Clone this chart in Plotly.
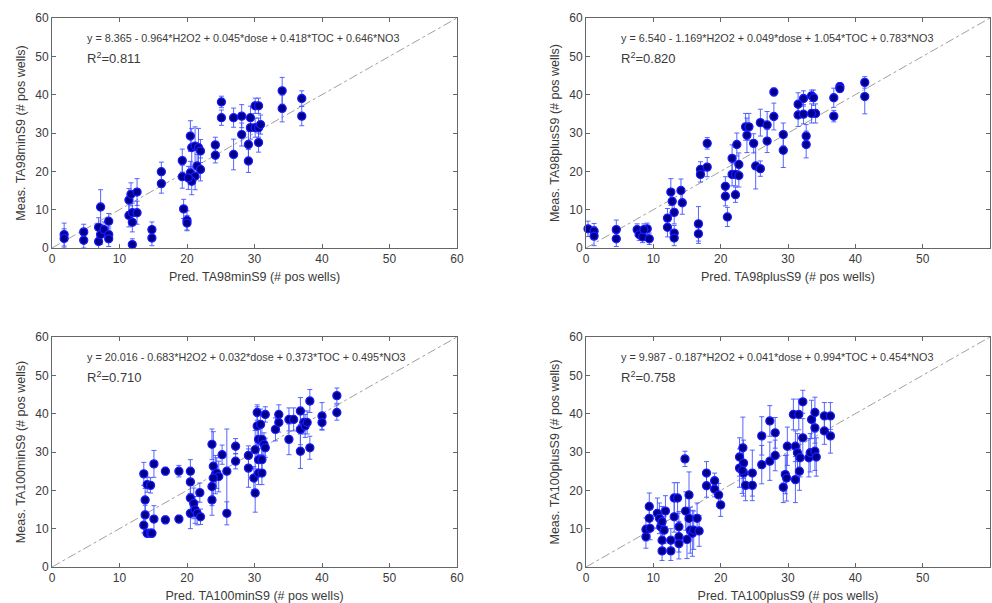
import plotly.graph_objects as go
from plotly.subplots import make_subplots

# ---- Panel 1: TA98minS9 ----
p1_pred = [1.8, 1.8, 4.7, 4.7, 6.9, 6.9, 7.2, 7.2, 7.7, 8.4, 8.4, 8.4,
           11.4, 11.4, 11.7, 11.9, 11.9, 11.9, 12.6, 12.6, 14.8, 14.8,
           16.2, 16.2, 19.3, 19.3, 19.5, 20.0, 20.0, 20.5, 20.5, 20.7, 21.2,
           21.5, 21.7, 22.0, 22.0, 21.2, 20.7, 20.2, 24.2, 24.2, 25.1, 25.1,
           26.9, 26.9, 28.1, 28.1, 29.1, 29.1, 29.4, 29.4, 30.1, 30.1,
           30.6, 30.6, 30.6, 30.9, 34.1, 34.1, 37.0, 37.0]
p1_meas = [3.5, 2.5, 4.2, 2.0, 5.4, 1.7, 10.7, 3.5, 4.8, 3.5, 2.4, 7.0,
           12.5, 8.5, 14.0, 0.9, 9.2, 6.7, 14.6, 9.2, 4.8, 2.6,
           19.9, 16.8, 22.8, 18.6, 10.2, 7.2, 6.5, 29.2, 19.6, 26.2, 26.6,
           21.4, 26.2, 25.3, 20.5, 18.7, 17.4, 18.3, 26.9, 24.2, 38.1, 34.0,
           34.0, 24.4, 34.4, 29.6, 27.0, 22.7, 34.0, 31.4, 37.1, 31.4,
           37.1, 31.4, 27.5, 32.2, 41.0, 36.4, 39.0, 34.4]
p1_err = [3.0, 2.5, 2.0, 2.0, 2.5, 2.0, 4.5, 2.5, 2.0, 2.0, 2.0, 2.0,
          3.0, 3.0, 3.0, 1.5, 2.5, 2.5, 3.5, 3.0, 2.0, 2.0,
          2.5, 2.5, 3.0, 3.0, 2.5, 2.5, 2.0, 4.0, 3.0, 5.0, 5.0,
          3.0, 5.0, 3.0, 3.0, 3.5, 3.5, 3.0, 2.0, 2.0, 1.5, 2.0,
          2.5, 4.0, 3.0, 3.0, 3.5, 3.0, 3.0, 3.0, 2.0, 2.5,
          2.0, 2.5, 2.5, 2.5, 3.5, 3.5, 2.0, 2.5]

# ---- Panel 2: TA98plusS9 ----
p2_pred = [0.3, 1.2, 1.2, 4.5, 4.5, 7.6, 7.9, 8.4, 9.1, 9.4, 8.6,
           12.1, 12.1, 12.6, 12.8, 13.1, 13.1, 13.1, 14.1, 14.3,
           16.7, 16.7, 17.0, 17.0, 18.0, 18.0, 20.7, 20.7, 21.0,
           21.7, 21.7, 22.2, 22.2, 22.4, 22.7, 22.7, 23.7, 23.9, 24.2,
           24.9, 25.2, 25.9, 25.9, 26.9, 26.9, 27.9, 27.9, 29.3, 29.3,
           31.5, 31.5, 32.3, 32.3, 32.7, 32.7, 33.5, 33.8, 34.1, 33.5,
           36.8, 36.8, 37.7, 37.7, 41.4, 41.4]
p2_meas = [5.0, 4.4, 3.1, 4.8, 2.4, 4.8, 3.5, 2.9, 5.0, 2.4, 4.8,
           7.8, 5.4, 14.6, 12.2, 9.3, 3.9, 2.6, 15.0, 11.8,
           6.3, 3.7, 20.5, 19.2, 27.3, 21.1, 16.1, 13.5, 8.1,
           23.4, 19.2, 19.2, 13.9, 27.0, 21.8, 18.9, 31.6, 29.4, 31.6,
           27.3, 21.4, 32.7, 20.7, 32.1, 27.9, 40.7, 34.3, 29.6, 25.5,
           37.5, 34.7, 39.0, 34.9, 29.2, 27.0, 39.7, 39.2, 35.1, 35.1,
           39.2, 34.4, 42.1, 41.6, 43.2, 39.5]
p2_err = [2.0, 2.0, 2.5, 2.5, 2.0, 1.5, 1.5, 1.5, 1.5, 1.5, 1.5,
          2.5, 2.5, 3.5, 3.0, 3.0, 2.0, 2.0, 3.0, 3.0,
          4.5, 2.5, 2.0, 2.0, 1.5, 2.5, 2.5, 2.5, 2.5,
          3.5, 3.0, 3.0, 2.0, 3.0, 3.0, 3.0, 3.5, 4.5, 3.5,
          2.5, 6.0, 3.5, 2.0, 3.5, 3.0, 1.0, 3.5, 3.0, 4.5,
          3.0, 3.0, 2.0, 2.5, 3.0, 3.5, 1.5, 2.0, 2.5, 2.5,
          2.5, 1.5, 1.0, 1.0, 1.5, 4.5]

# ---- Panel 3: TA100minS9 ----
p3_pred = [13.6, 13.6, 13.8, 13.8, 14.1, 14.6, 14.1, 14.6, 14.8, 15.1, 15.1,
           16.8, 16.8, 18.8, 18.8, 20.5, 20.5, 20.5, 20.5, 21.0, 21.2, 21.5,
           22.0, 21.9, 23.7, 23.7, 23.7, 23.9, 24.2, 24.4, 24.7, 23.9,
           25.2, 25.9, 25.9, 27.2, 27.2, 29.1, 29.1, 29.9, 30.1, 30.1,
           30.4, 30.4, 30.6, 30.6, 30.6, 30.9, 31.1, 31.1, 31.1, 31.4, 31.6,
           31.6, 33.1, 33.6, 33.6, 35.1, 35.1, 35.8, 36.8, 36.8, 36.8,
           37.3, 37.5, 37.8, 38.2, 38.2, 40.0, 40.0, 42.2, 42.2]
p3_meas = [24.3, 10.9, 17.5, 13.6, 21.5, 21.3, 8.8, 8.8, 8.8, 26.9, 12.5,
           12.3, 25.0, 25.0, 12.5, 25.0, 22.2, 18.0, 14.0, 16.6, 14.9, 14.0,
           13.1, 19.4, 32.0, 21.0, 17.5, 26.3, 24.1, 24.5, 23.6, 23.2,
           29.3, 25.0, 14.0, 31.5, 27.6, 29.1, 25.8, 23.2, 30.6, 19.3,
           40.3, 36.8, 33.3, 28.0, 24.5, 37.2, 33.3, 28.0, 24.5, 32.0, 31.1,
           39.8, 35.9, 39.8, 37.7, 38.5, 33.3, 38.5, 40.7, 35.9, 30.2,
           37.7, 36.8, 37.7, 43.3, 31.1, 39.4, 37.7, 44.7, 40.3]
p3_err = [3.0, 2.0, 3.0, 2.5, 2.0, 2.0, 1.0, 1.0, 1.0, 3.5, 3.5,
          1.0, 1.0, 1.5, 1.0, 3.0, 3.0, 5.0, 4.0, 4.0, 3.5, 3.0,
          2.0, 2.5, 4.0, 5.0, 4.0, 9.0, 5.0, 4.0, 4.0, 3.0,
          2.5, 11.0, 3.0, 2.0, 2.0, 2.5, 5.0, 3.0, 5.0, 5.0,
          2.0, 5.0, 4.0, 4.0, 3.0, 4.0, 4.0, 3.0, 3.0, 3.0, 2.5,
          2.0, 3.0, 2.5, 2.5, 3.0, 4.0, 3.0, 3.5, 4.0, 4.5,
          3.0, 3.0, 3.0, 3.0, 3.0, 3.5, 2.0, 2.0, 2.0]

# ---- Panel 4: TA100plusS9 ----
p4_pred = [8.9, 8.9, 9.4, 9.4, 9.5, 10.6, 10.9, 11.1, 11.3, 11.6, 11.3, 11.3,
           11.8, 12.6, 12.6, 13.1, 13.1, 13.6, 13.8, 13.8, 13.8, 14.7,
           14.8, 15.0, 15.3, 15.3, 15.5, 15.8, 16.0, 16.5, 16.8,
           17.9, 17.9, 19.1, 19.1, 19.7, 20.0, 22.8, 22.8, 23.3, 23.4,
           23.4, 23.7, 23.2, 24.7, 24.7, 26.1, 26.1, 27.3, 27.3, 28.1, 28.1,
           29.3, 29.6, 29.8, 29.9, 30.8, 31.1, 31.4, 31.1, 31.6, 31.7, 31.8,
           32.2, 32.2, 33.1, 33.3, 33.5, 34.0, 34.0, 34.0, 34.2,
           35.4, 35.4, 36.3, 36.3]
p4_meas = [7.9, 9.8, 15.8, 12.7, 10.1, 14.0, 12.7, 10.5, 11.8, 9.6, 7.0, 4.2,
           14.6, 7.0, 4.2, 18.0, 13.1, 18.0, 10.5, 7.9, 6.1, 28.2,
           14.6, 7.2, 18.8, 12.7, 9.6, 8.8, 9.6, 12.7, 9.4,
           24.5, 21.2, 22.5, 20.3, 18.8, 16.2, 28.7, 25.8, 31.1, 27.1,
           24.5, 21.3, 25.2, 24.5, 21.3, 34.2, 26.7, 38.1, 27.6, 35.0, 29.1,
           20.8, 24.1, 23.2, 31.5, 39.8, 31.5, 29.8, 22.8, 39.8, 25.0, 28.5,
           43.1, 33.7, 28.5, 29.8, 38.5, 40.3, 36.3, 30.2, 28.7,
           39.4, 35.5, 39.4, 34.2]
p4_err = [3.0, 3.0, 3.5, 3.5, 3.0, 4.0, 4.0, 4.0, 4.0, 3.5, 3.0, 2.5,
          4.0, 3.0, 2.5, 4.0, 4.0, 4.0, 4.0, 4.0, 4.0, 2.0,
          5.0, 5.0, 6.0, 6.0, 6.0, 6.0, 5.0, 4.0, 4.0,
          3.0, 3.0, 2.0, 2.0, 3.0, 3.0, 5.0, 5.0, 8.0, 6.0,
          6.0, 4.0, 6.0, 6.0, 4.0, 5.0, 5.0, 4.0, 5.0, 4.0, 4.0,
          4.0, 5.0, 6.0, 5.0, 4.0, 4.0, 5.0, 6.0, 4.0, 5.0, 5.0,
          3.0, 5.0, 5.0, 5.0, 5.0, 4.0, 4.0, 5.0, 5.0,
          3.5, 3.5, 3.5, 4.5]

x_titles = ["Pred. TA98minS9 (# pos wells)", "Pred. TA98plusS9 (# pos wells)",
            "Pred. TA100minS9 (# pos wells)", "Pred. TA100plusS9 (# pos wells)"]
y_titles = ["Meas. TA98minS9 (# pos wells)", "Meas. TA98plusS9 (# pos wells)",
            "Meas. TA100minS9 (# pos wells)", "Meas. TA100plusS9 (# pos wells)"]
equations = ["y = 8.365 - 0.964*H2O2 + 0.045*dose + 0.418*TOC + 0.646*NO3",
             "y = 6.540 - 1.169*H2O2 + 0.049*dose + 1.054*TOC + 0.783*NO3",
             "y = 20.016 - 0.683*H2O2 + 0.032*dose + 0.373*TOC + 0.495*NO3",
             "y = 9.987 - 0.187*H2O2 + 0.041*dose + 0.994*TOC + 0.454*NO3"]
r2_labels = ["R<sup>2</sup>=0.811", "R<sup>2</sup>=0.820",
             "R<sup>2</sup>=0.710", "R<sup>2</sup>=0.758"]
diag = [0, 60]
ticks = [0, 10, 20, 30, 40, 50, 60]

panels = [(p1_pred, p1_meas, p1_err), (p2_pred, p2_meas, p2_err),
          (p3_pred, p3_meas, p3_err), (p4_pred, p4_meas, p4_err)]

fig = make_subplots(rows=2, cols=2)
font = "Liberation Sans, Arial, sans-serif"
txt = "#3a3a3a"

xdoms = [[52/992, 457/992], [586/992, 990/992]]
ydoms = [[1-248/603, 1-18/603], [1-567/603, 1-337/603]]

for i, (xp, ym, er) in enumerate(panels):
    r, c = i // 2 + 1, i % 2 + 1
    fig.add_trace(go.Scatter(x=diag, y=diag, mode="lines",
                             line=dict(color="#a0a0a0", width=1, dash="dashdot"),
                             showlegend=False, hoverinfo="skip"), row=r, col=c)
    fig.add_trace(go.Scatter(x=xp, y=ym, mode="markers",
                             marker=dict(color="#00008b", size=8,
                                         line=dict(color="#1a1aff", width=1.3)),
                             error_y=dict(type="data", array=er, color="#4455ff",
                                          thickness=0.9, width=2.5),
                             showlegend=False, cliponaxis=False), row=r, col=c)
    ax = "" if i == 0 else str(i + 1)
    fig.update_xaxes(domain=xdoms[c-1], range=[0, 60], tickvals=ticks,
                     ticks="inside", ticklen=4, tickcolor="#666",
                     showline=True, linecolor="#666", linewidth=1, mirror="allticks",
                     showgrid=False, zeroline=False, automargin=False,
                     tickfont=dict(family=font, size=12, color=txt),
                     title=dict(text=x_titles[i], font=dict(family=font, size=12.5, color=txt),
                                standoff=6),
                     row=r, col=c)
    fig.update_yaxes(domain=ydoms[r-1], range=[0, 60], tickvals=ticks,
                     ticks="inside", ticklen=4, tickcolor="#666",
                     showline=True, linecolor="#666", linewidth=1, mirror="allticks",
                     showgrid=False, zeroline=False, automargin=False,
                     tickfont=dict(family=font, size=12, color=txt),
                     title=dict(text=y_titles[i], font=dict(family=font, size=12.5, color=txt),
                                standoff=6),
                     row=r, col=c)
    fig.add_annotation(x=4.9, y=54.8, xref="x" + ax, yref="y" + ax, text=equations[i],
                       showarrow=False, xanchor="left", yanchor="middle",
                       font=dict(family=font, size=10.8, color=txt))
    fig.add_annotation(x=4.9, y=49.6, xref="x" + ax, yref="y" + ax, text=r2_labels[i],
                       showarrow=False, xanchor="left", yanchor="middle",
                       font=dict(family=font, size=13, color=txt))

fig.update_layout(width=992, height=603, margin=dict(l=0, r=0, t=0, b=0),
                  plot_bgcolor="white", paper_bgcolor="white",
                  font=dict(family=font))
fig.write_html("out.html", config={"displayModeBar": False},
               post_script="document.body.style.margin='0';document.body.style.overflow='hidden';")
